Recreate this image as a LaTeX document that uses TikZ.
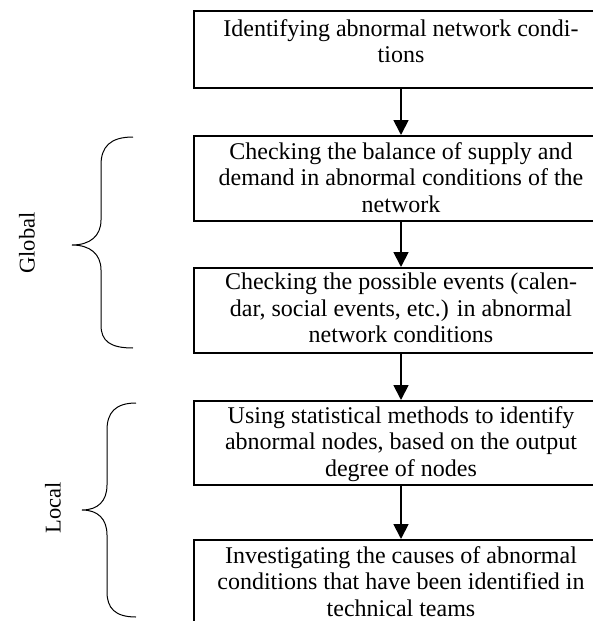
\documentclass[tikz,border=0pt]{standalone}
\usepackage{fontspec}
\setmainfont{Liberation Serif}
\usetikzlibrary{arrows.meta}
\tikzset{
  x=1pt, y=-1pt,
  stepbox/.style={draw, line width=1.8pt, rectangle, minimum width=414pt, inner sep=0pt, anchor=north},
  boxtext/.style={anchor=north, inner sep=0pt, align=center, font=\fontsize{24}{26.5}\selectfont},
  flow/.style={line width=1.8pt, -{Triangle[width=15pt,length=15pt]}},
  bracepath/.style={line width=1pt},
  sidelabel/.style={rotate=90, inner sep=0pt, font=\fontsize{22.5}{25}\selectfont},
}
\begin{document}
\begin{tikzpicture}
\useasboundingbox (0,0) rectangle (593,621);
% boxes
\node[stepbox, minimum height=77pt] (b1) at (401,10) {};
\node[stepbox, minimum height=85pt] (b2) at (401,135) {};
\node[stepbox, minimum height=85pt] (b3) at (401,267) {};
\node[stepbox, minimum height=84pt] (b4) at (401,400) {};
\node[stepbox, minimum height=100pt] (b5) at (401,539) {};
% texts
\node[boxtext] (t1) at ([yshift=-9pt]b1.north) {Identifying abnormal network condi-\\tions};
\node[boxtext] (t2) at ([yshift=-7pt]b2.north) {Checking the balance of supply and\\demand in abnormal conditions of the\\network};
\node[boxtext] (t3) at ([yshift=-6pt]b3.north) {Checking the possible events (calen-\\dar, social events, etc.) in abnormal\\network conditions};
\node[boxtext] (t4) at ([yshift=-6pt]b4.north) {Using statistical methods to identify\\abnormal nodes, based on the output\\degree of nodes};
\node[boxtext] (t5) at ([yshift=-7pt]b5.north) {Investigating the causes of abnormal\\conditions that have been identified in\\technical teams};
% arrows
\draw[flow] (b1.south) -- (b2.north);
\draw[flow] (b2.south) -- (b3.north);
\draw[flow] (b3.south) -- (b4.north);
\draw[flow] (b4.south) -- (b5.north);
% braces
\coordinate (g1) at (133,137);
\coordinate (g2) at (133,348);
\coordinate (gt) at (72,245);
\draw[bracepath] (g1) .. controls (110,137) and (101,147) .. (101,165) -- (101,220)
  .. controls (101,236) and (90,245) .. (gt)
  .. controls (90,245) and (101,254) .. (101,270) -- (101,325)
  .. controls (101,341) and (110,348) .. (g2);
\coordinate (l1) at (136,403);
\coordinate (l2) at (136,617);
\coordinate (lt) at (82,510);
\draw[bracepath] (l1) .. controls (115,403) and (107,413) .. (107,430) -- (107,485)
  .. controls (107,501) and (98,510) .. (lt)
  .. controls (98,510) and (107,519) .. (107,535) -- (107,592)
  .. controls (107,608) and (115,617) .. (l2);
% labels
\node[sidelabel] (glob) at (27,243) {Global};
\node[sidelabel] (loc) at (53,508) {Local};
\end{tikzpicture}
\end{document}
